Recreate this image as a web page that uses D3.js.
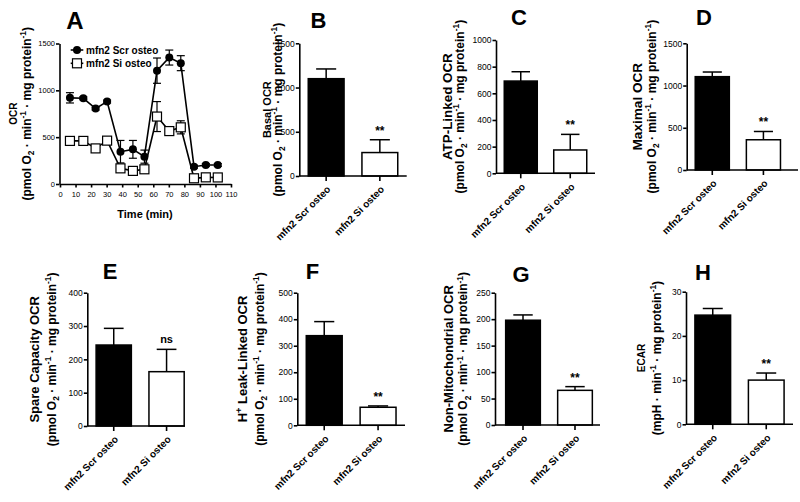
<!DOCTYPE html>
<html><head><meta charset="utf-8">
<script src="https://cdn.jsdelivr.net/npm/d3@7"></script>
<style>
body{margin:0;background:#fff}
svg{display:block}
text{font-family:"Liberation Sans",Arial,Helvetica,sans-serif;fill:#000}
</style>
</head><body>
<svg id="chart" width="800" height="502"></svg>
<script>
// ---------------- DATA ----------------
const categories = ["mfn2 Scr osteo", "mfn2 Si osteo"];
const seriesNames = ["mfn2 Scr osteo", "mfn2 Si osteo"];

// Panel A: OCR time course
const timeMin   = [6.4, 15, 22.9, 30.3, 38.9, 46.9, 54.3, 62.4, 70.3, 77.7, 86.2, 93.8, 101.5];
const ocrScr    = [920, 915, 805, 880, 345, 370, 292, 1210, 1350, 1290, 185, 203, 203];
const ocrScrErr = [55, 15, 15, 15, 120, 95, 70, 135, 80, 80, 15, 15, 15];
const ocrSi     = [460, 460, 380, 463, 167, 140, 157, 720, 565, 605, 61, 71, 70];
const ocrSiErr  = [20, 20, 20, 20, 20, 15, 20, 160, 30, 70, 10, 10, 10];
const timeTicks = [0, 10, 20, 30, 40, 50, 60, 70, 80, 90, 100, 110];
const ocrTicks  = [0, 500, 1000, 1500];

// Bar panels: [Scr, Si]
const basalOCR      = [1100, 265];  const basalErr   = [110, 145];
const atpLinkedOCR  = [692, 175];   const atpErr     = [70, 117];
const maximalOCR    = [1105, 358];  const maximalErr = [55, 98];
const spareOCR      = [243, 163];   const spareErr   = [50, 67];
const leakOCR       = [338, 68];    const leakErr    = [53, 5];
const nonMitoOCR    = [198, 65.5];  const nonMitoErr = [10, 7];
const ecar          = [24.7, 10.0]; const ecarErr    = [1.5, 1.6];

const ticksB = [0, 500, 1000, 1500];
const ticksC = [0, 200, 400, 600, 800, 1000];
const ticksD = [0, 500, 1000, 1500];
const ticksE = [0, 100, 200, 300, 400];
const ticksF = [0, 100, 200, 300, 400, 500];
const ticksG = [0, 50, 100, 150, 200, 250];
const ticksH = [0, 10, 20, 30];

const sigLabels = ["**", "**", "**", "ns", "**", "**", "**"];
const panelLetters = ["A", "B", "C", "D", "E", "F", "G", "H"];

const unitsOCR = [["(pmol O",""],["2","sub"],[" \u00B7 min",""],["-1","sup"],[" \u00B7 mg protein",""],["-1","sup"],[")",""]];
const unitsECAR = [["(mpH \u00B7 min",""],["-1","sup"],[" \u00B7 mg protein",""],["-1","sup"],[")",""]];
const titlesLine1 = {
  A: [["OCR",""]],
  B: [["Basal OCR",""]],
  C: [["ATP-Linked OCR",""]],
  D: [["Maximal OCR",""]],
  E: [["Spare Capacity OCR",""]],
  F: [["H",""],["+","sup"],[" Leak-Linked OCR",""]],
  G: [["Non-Mitochondrial OCR",""]],
  H: [["ECAR",""]]
};
const xTitleA = "Time (min)";

// ---------------- DRAWING ----------------
const svg = d3.select("#chart");
const AXW = 1.6;
const fmt = d3.format("d");

function richText(sel, parts, fs) {
  let off = 0;
  parts.forEach(([t, k]) => {
    const target = k === "sup" ? -fs * 0.4 : (k === "sub" ? fs * 0.28 : 0);
    sel.append("tspan").attr("dy", target - off).attr("font-size", k ? fs * 0.7 : fs).text(t);
    off = target;
  });
}

function yTitle(cx1, cx2, cy, line1, line2, fs1, fs2) {
  const t1 = svg.append("text").attr("transform", `translate(${cx1},${cy}) rotate(-90)`)
    .attr("text-anchor", "middle").attr("font-weight", "bold").attr("font-size", fs1);
  richText(t1, line1, fs1);
  const t2 = svg.append("text").attr("transform", `translate(${cx2},${cy}) rotate(-90)`)
    .attr("text-anchor", "middle").attr("font-weight", "bold").attr("font-size", fs2);
  richText(t2, line2, fs2);
}

function letter(txt, x, y, fs) {
  svg.append("text").attr("x", x).attr("y", y).attr("text-anchor", "middle")
    .attr("font-weight", "bold").attr("font-size", fs).text(txt);
}

function styleAxis(g) {
  g.selectAll("path.domain").attr("stroke", "#000").attr("stroke-width", AXW);
  g.selectAll(".tick line").attr("stroke", "#000").attr("stroke-width", AXW);
}

// ---- Panel A ----
(function () {
  const x = d3.scaleLinear().domain([0, 110]).range([60, 231]);
  const y = d3.scaleLinear().domain([0, 1500]).range([184, 43.5]);
  const gx = svg.append("g").attr("transform", `translate(0,${y(0)})`)
    .call(d3.axisBottom(x).tickValues(timeTicks).tickFormat(fmt).tickSize(3.5).tickPadding(3.7).tickSizeOuter(0));
  gx.selectAll("text").attr("font-size", 7.5).attr("font-family", null);
  styleAxis(gx);
  const gy = svg.append("g").attr("transform", `translate(${x(0) - 0.5},0)`)
    .call(d3.axisLeft(y).tickValues(ocrTicks).tickFormat(fmt).tickSize(3.5).tickPadding(1).tickSizeOuter(0));
  gy.selectAll("text").attr("font-size", 7.5).attr("font-family", null);
  styleAxis(gy);

  const series = [
    { v: ocrScr, e: ocrScrErr, type: "circle" },
    { v: ocrSi, e: ocrSiErr, type: "square" }
  ];
  const line = d3.line().x((d, i) => x(timeMin[i])).y(d => y(d));
  series.forEach(s => {
    const g = svg.append("g").attr("stroke", "#000").attr("stroke-width", 1.2);
    s.v.forEach((v, i) => {
      const cx = x(timeMin[i]);
      g.append("line").attr("x1", cx).attr("x2", cx).attr("y1", y(v - s.e[i])).attr("y2", y(v + s.e[i]));
      [v - s.e[i], v + s.e[i]].forEach(b => {
        g.append("line").attr("x1", cx - 4).attr("x2", cx + 4).attr("y1", y(b)).attr("y2", y(b));
      });
    });
  });
  series.forEach(s => {
    svg.append("path").datum(s.v).attr("d", line).attr("fill", "none")
      .attr("stroke", "#000").attr("stroke-width", 1.6);
  });
  series.forEach(s => {
    s.v.forEach((v, i) => {
      const cx = x(timeMin[i]), cy = y(v);
      if (s.type === "circle") {
        svg.append("circle").attr("cx", cx).attr("cy", cy).attr("r", 4).attr("fill", "#000");
      } else {
        svg.append("rect").attr("x", cx - 4.5).attr("y", cy - 4.5).attr("width", 9).attr("height", 9)
          .attr("fill", "#fff").attr("stroke", "#000").attr("stroke-width", 1.2);
      }
    });
  });
  const leg = [{ y: 50, type: "circle" }, { y: 63.3, type: "square" }];
  leg.forEach((l, i) => {
    svg.append("line").attr("x1", 70.7).attr("x2", 83.3).attr("y1", l.y).attr("y2", l.y)
      .attr("stroke", "#000").attr("stroke-width", 1.6);
    if (l.type === "circle") svg.append("circle").attr("cx", 77).attr("cy", l.y).attr("r", 4).attr("fill", "#000");
    else svg.append("rect").attr("x", 72.5).attr("y", l.y - 4.5).attr("width", 9).attr("height", 9)
      .attr("fill", "#fff").attr("stroke", "#000").attr("stroke-width", 1.2);
    svg.append("text").attr("x", 86).attr("y", l.y + 3.6).attr("font-size", 10).attr("font-weight", "bold")
      .text(seriesNames[i]);
  });
  svg.append("text").attr("x", 145).attr("y", 218.3).attr("text-anchor", "middle")
    .attr("font-size", 11).attr("font-weight", "bold").text(xTitleA);
  yTitle(16.7, 30.6, (184 + 43.5) / 2, titlesLine1.A, unitsOCR, 10, 12);
  letter(panelLetters[0], 75, 29.3, 24);
})();

// ---- Bar panels ----
const barPanels = [
  { L: "B", ax: 299.3, b0: 299.3, b1: 406.7, axEnd: 406.7, y0: 176, y1: 43.3, ticks: ticksB, v: basalOCR, e: basalErr, t1x: 270.7, t2x: 281.6, fs1: 11, let: [318.5, 28.3] },
  { L: "C", ax: 496, b0: 496, b1: 595, axEnd: 595, y0: 173.3, y1: 40, ticks: ticksC, v: atpLinkedOCR, e: atpErr, t1x: 451.7, t2x: 464, fs1: 13.4, let: [519, 25] },
  { L: "D", ax: 686.7, b0: 686.7, b1: 789, axEnd: 798, y0: 170, y1: 43.3, ticks: ticksD, v: maximalOCR, e: maximalErr, t1x: 641.7, t2x: 655.6, fs1: 13.6, let: [704, 25] },
  { L: "E", ax: 87.3, b0: 87.3, b1: 193, axEnd: 185, y0: 426, y1: 292.7, ticks: ticksE, v: spareOCR, e: spareErr, t1x: 39.2, t2x: 55.6, fs1: 13, let: [110, 279.3] },
  { L: "F", ax: 297.3, b0: 297.3, b1: 405, axEnd: 405, y0: 425.3, y1: 292.7, ticks: ticksF, v: leakOCR, e: leakErr, t1x: 246.7, t2x: 264, fs1: 13, let: [312.5, 279.3] },
  { L: "G", ax: 495, b0: 497, b1: 601, axEnd: 600, y0: 425, y1: 292.7, ticks: ticksG, v: nonMitoOCR, e: nonMitoErr, t1x: 453.3, t2x: 467.3, fs1: 13, let: [521, 281.7] },
  { L: "H", ax: 686, b0: 686, b1: 793, axEnd: 793, y0: 424.3, y1: 291.7, ticks: ticksH, v: ecar, e: ecarErr, t1x: 645, t2x: 660.6, fs1: 10, let: [703, 280] }
];

barPanels.forEach((p, pi) => {
  const y = d3.scaleLinear().domain([0, d3.max(p.ticks)]).range([p.y0, p.y1]);
  const x = d3.scaleBand().domain(categories).range([p.b0, p.b1]).paddingInner(0.333).paddingOuter(0.1667);
  const bw = x.bandwidth();
  categories.forEach((c, i) => {
    const top = y(p.v[i]), et = y(p.v[i] + p.e[i]);
    const cx = x(c) + bw / 2;
    svg.append("line").attr("x1", cx).attr("x2", cx).attr("y1", top).attr("y2", et)
      .attr("stroke", "#000").attr("stroke-width", 1.5);
    svg.append("line").attr("x1", cx - bw * 0.28).attr("x2", cx + bw * 0.28).attr("y1", et).attr("y2", et)
      .attr("stroke", "#000").attr("stroke-width", 1.5);
    svg.append("rect").attr("x", x(c)).attr("y", top).attr("width", bw).attr("height", p.y0 - top)
      .attr("fill", i === 0 ? "#000" : "#fff").attr("stroke", "#000").attr("stroke-width", 1.5);
    if (i === 1) {
      const s = sigLabels[pi];
      svg.append("text").attr("x", cx).attr("y", s === "ns" ? et - 6.7 : et + 1)
        .attr("text-anchor", "middle").attr("font-size", s === "ns" ? 11 : 12).attr("font-weight", "bold")
        .attr("dy", s === "ns" ? 0 : "-0.5em")
        .text(s);
    }
  });
  const gy = svg.append("g").attr("transform", `translate(${p.ax},0)`)
    .call(d3.axisLeft(y).tickValues(p.ticks).tickFormat(fmt).tickSize(3.5).tickPadding(1).tickSizeOuter(0));
  gy.selectAll("text").attr("font-size", 8.5).attr("font-family", null);
  styleAxis(gy);
  svg.append("line").attr("x1", p.ax).attr("x2", p.axEnd).attr("y1", p.y0).attr("y2", p.y0)
    .attr("stroke", "#000").attr("stroke-width", AXW);
  categories.forEach(c => {
    const cx = x(c) + bw / 2;
    svg.append("line").attr("x1", cx).attr("x2", cx).attr("y1", p.y0).attr("y2", p.y0 + 5)
      .attr("stroke", "#000").attr("stroke-width", AXW);
    svg.append("text").attr("transform", `translate(${cx + 5},${p.y0 + 14}) rotate(-45)`)
      .attr("text-anchor", "end").attr("font-size", 10).attr("font-weight", "bold").text(c);
  });
  yTitle(p.t1x, p.t2x, (p.y0 + p.y1) / 2, titlesLine1[p.L], p.L === "H" ? unitsECAR : unitsOCR, p.fs1, 12);
  letter(p.L, p.let[0], p.let[1], 22);
});
</script>
</body></html>
